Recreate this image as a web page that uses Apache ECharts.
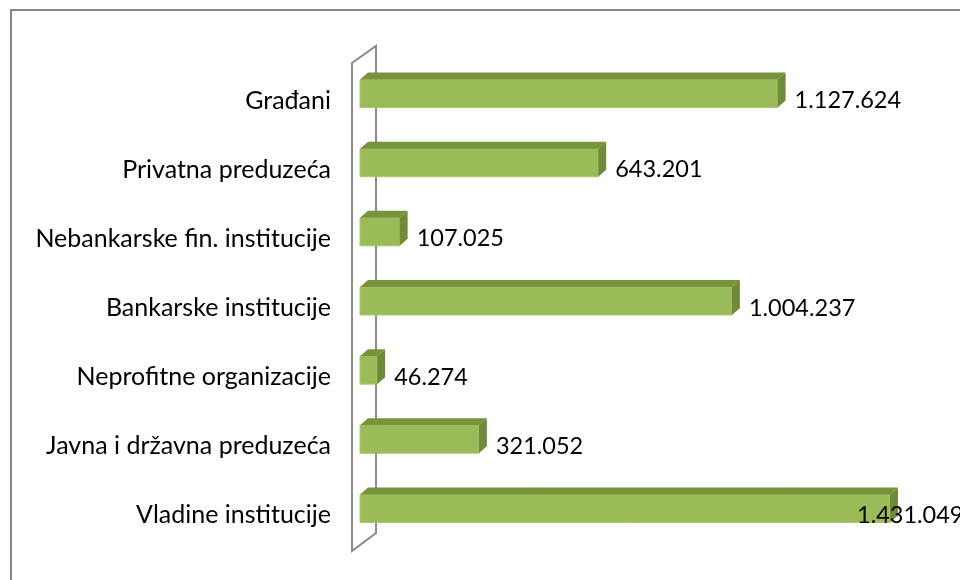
<!DOCTYPE html>
<html><head><meta charset="utf-8">
<script src="https://cdn.jsdelivr.net/npm/echarts@6/dist/echarts.min.js"></script>
<style>html,body{margin:0;padding:0;background:#fff}#c{width:960px;height:580px}</style>
</head><body><div id="c"></div>
<script>
const categories = ['Građani','Privatna preduzeća','Nebankarske fin. institucije','Bankarske institucije','Neprofitne organizacije','Javna i državna preduzeća','Vladine institucije'];
const values = [1127624, 643201, 107025, 1004237, 46274, 321052, 1431049];
const valueLabels = ['1.127.624','643.201','107.025','1.004.237','46.274','321.052','1.431.049'];

const chart = echarts.init(document.getElementById('c'));
const FONT = 'Lato, "Open Sans", sans-serif';
const data = values.map((v, i) => [v, i]);

chart.setOption({
  animation: false,
  backgroundColor: '#fff',
  grid: { left: 360, top: 66, height: 484, width: 555.5 },
  xAxis: { type: 'value', min: 0, max: 1500000, show: false },
  yAxis: {
    type: 'category', data: categories, inverse: true,
    axisLine: { show: false }, axisTick: { show: false },
    axisLabel: { margin: 29, color: '#000', fontFamily: FONT, fontSize: 25 }
  },
  graphic: [
    { type: 'rect', z: 0, shape: { x: 11, y: 10, width: 1000, height: 1000 }, style: { fill: 'none', stroke: '#878787', lineWidth: 2 } },
    { type: 'polygon', z: 0, shape: { points: [[352,63],[376,46],[376,533],[352,551]] }, style: { fill: 'none', stroke: '#8a8a8a', lineWidth: 2 } }
  ],
  series: [{
    type: 'custom',
    z: 5,
    encode: { x: 0, y: 1 },
    data: data,
    renderItem: function (params, api) {
      const v = api.value(0), c = api.value(1);
      const p0 = api.coord([0, c]);
      const p1 = api.coord([v, c]);
      const h = 28, d = 8, dy = 7;
      const x0 = p0[0], x1 = p1[0];
      const yT = p0[1] - 7 - h / 2;
      const lx = Math.min(x1 + d + 9, 857);
      return {
        type: 'group',
        children: [
          { type: 'rect', shape: { x: x0, y: yT, width: x1 - x0, height: h }, style: { fill: '#9bbb59', stroke: '#a9c86a', lineWidth: 1 } },
          { type: 'polygon', shape: { points: [[x0, yT], [x0 + d, yT - dy], [x1 + d, yT - dy], [x1, yT]] }, style: { fill: '#77933c' } },
          { type: 'polygon', shape: { points: [[x1, yT], [x1 + d, yT - dy], [x1 + d, yT + h - dy], [x1, yT + h]] }, style: { fill: '#6f8a39' } },
          { type: 'text', z2: 10, style: { x: lx, y: p0[1], text: valueLabels[c], fill: '#000', font: '23.5px ' + FONT, textAlign: 'left', textVerticalAlign: 'middle' } }
        ]
      };
    }
  }]
});
</script></body></html>
